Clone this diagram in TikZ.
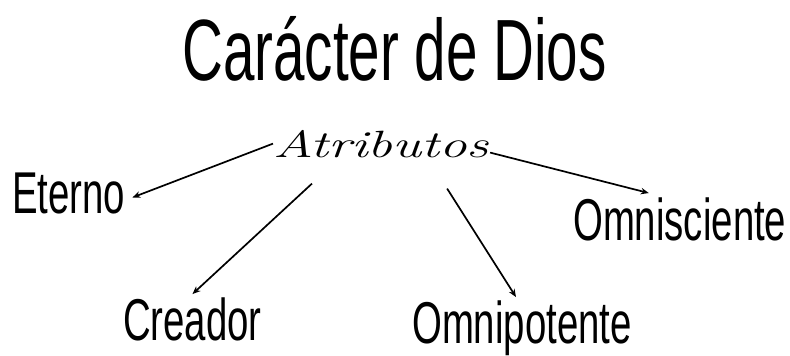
\documentclass[tikz,border=0pt]{standalone}
\usepackage{fontspec}
\usepackage{tikz}
\usetikzlibrary{arrows.meta,calc}
\newfontfamily\narrowfont{Liberation Sans}[FakeStretch=0.65]
\newfontfamily\handfont{Latin Modern Roman}[FakeStretch=1.45]

\tikzset{
  word/.style={inner sep=0pt, anchor=base west, font=\narrowfont\fontsize{59}{60}\selectfont},
  arrowline/.style={line width=1.7pt, -{Stealth[length=8pt,width=6.5pt]}}
}

\begin{document}
\begin{tikzpicture}[x=1pt,y=-1pt]
    \useasboundingbox (0,0) rectangle (790,356);

    % Title
    \node[word, font=\narrowfont\fontsize{87}{88}\selectfont] (title) at (182,80) {Carácter de Dios};

    % Center word
    \node[inner sep=0pt, anchor=base west, font=\handfont\itshape\fontsize{38}{39}\selectfont] (atrib) at (273,157) {Atributos};

    % Attributes
    \node[word] (eterno) at (12,213) {Eterno};
    \node[word] (creador) at (123,340) {Creador};
    \node[word] (omnip) at (412,343) {Omnipotente};
    \node[word] (omnisc) at (573,240) {Omnisciente};

    % Arrows
    \draw[arrowline] (atrib.west) -- ([shift={(7pt,-4.5pt)}]eterno.east);
    \draw[arrowline] ([shift={(39pt,-26pt)}]atrib.south west) -- ([shift={(0pt,3pt)}]creador.north);
    \draw[arrowline] ([shift={(-42pt,-31pt)}]atrib.south east) -- ([shift={(-6pt,3pt)}]omnip.north);
    \draw[arrowline] ([shift={(1pt,5pt)}]atrib.south east) -- ([shift={(-31pt,4pt)}]omnisc.north);
\end{tikzpicture}
\end{document}
